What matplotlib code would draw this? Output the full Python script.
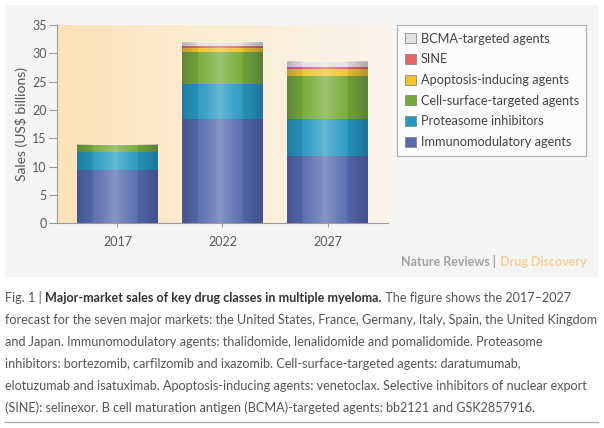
import matplotlib
matplotlib.use("Agg")
import matplotlib.pyplot as plt
import numpy as np
from matplotlib.patches import Rectangle, Patch

years = ["2017", "2022", "2027"]
series_names = ["Immunomodulatory agents", "Proteasome inhibitors",
                "Cell-surface-targeted agents", "Apoptosis-inducing agents",
                "SINE", "BCMA-targeted agents"]
immuno = [9.4, 18.4, 11.9]
proteasome = [3.1, 6.1, 6.5]
cell_surface = [1.3, 5.75, 7.6]
apoptosis = [0.0, 0.7, 1.25]
sine = [0.0, 0.35, 0.4]
bcma = [0.0, 0.5, 0.9]
yticks = [0, 5, 10, 15, 20, 25, 30, 35]

colors = ["#5669ab", "#2699c0", "#76aa38", "#f4c22c", "#e8666b", "#e2e2e2"]

FONT = ["Lato", "DejaVu Sans"]
plt.rcParams['font.family'] = FONT

W, H = 604, 428
fig = plt.figure(figsize=(W / 100, H / 100), dpi=100)
fig.patch.set_facecolor("white")

# panel background
fig.patches.append(Rectangle((5 / W, 1 - 277 / H), 593 / W, 272 / H,
                             transform=fig.transFigure, facecolor="#f5f5f5",
                             edgecolor="none", zorder=-10))

ax = fig.add_axes([57 / W, 1 - 223.3 / H, (388 - 57) / W, (223.3 - 25) / H])
ax.set_facecolor("none")

# background gradient (peach -> light)
grad = np.linspace(0, 1, 256) ** 0.8
c0 = np.array([253, 227, 182]) / 255
c1 = np.array([250, 244, 235]) / 255
img = c0[None, :] * (1 - grad[:, None]) + c1[None, :] * grad[:, None]
img = img[None, :, :]
ax.imshow(img, extent=[-0.576, 2.576, 0, 35], aspect="auto", zorder=0)

x = np.arange(len(years))
width = 0.77
data = [immuno, proteasome, cell_surface, apoptosis, sine, bcma]
bottom = np.zeros(len(years))
for vals, col, name in zip(data, colors, series_names):
    ax.bar(x, vals, width, bottom=bottom, color=col, edgecolor="none",
           zorder=2, label=name)
    bottom += np.array(vals)

# cylinder-like shading overlay on each bar
prof = np.linspace(0, 1, 200)
center = 0.47
light = np.clip(1 - np.abs(prof - center) / 0.4, 0, 1) ** 1.6
dark = np.clip((np.abs(prof - center) - 0.2) / 0.3, 0, 1) ** 1.2
ov = np.zeros((1, 200, 4))
ov[0, :, 0:3] = np.where((light * 0.3 > dark * 0.25)[:, None], [1, 1, 1], [0.05, 0.05, 0.2])
ov[0, :, 3] = np.maximum(light * 0.3, dark * 0.25)
for xi, tot in zip(x, bottom):
    ax.imshow(ov, extent=[xi - width / 2, xi + width / 2, 0, tot],
              aspect="auto", zorder=3, interpolation="bilinear")
ax.set_xlim(-0.576, 2.576)
ax.set_ylim(0, 35)

for s in ["top", "right"]:
    ax.spines[s].set_visible(False)
for s in ["left", "bottom"]:
    ax.spines[s].set_color("#9a9a9a")
    ax.spines[s].set_linewidth(0.8)
    ax.spines[s].set_zorder(5)
ax.set_yticks(yticks)
ax.set_xticks(x)
ax.set_xticklabels(years)
ax.tick_params(axis="both", colors="#9a9a9a", labelcolor="#5a5a5a",
               labelsize=9, width=0.8)
ax.tick_params(axis="y", length=5.5, pad=2)
ax.tick_params(axis="x", length=3, pad=6)
ax.set_ylabel("Sales (US$ billions)", fontsize=10, color="#555555")
ax.yaxis.set_label_coords(-0.087, 0.5)

# legend
handles = [Patch(facecolor=c, edgecolor="#8a8a8a", linewidth=0.6)
           for c in colors[::-1]]
leg = fig.legend(handles, series_names[::-1], loc="upper left",
                 bbox_to_anchor=(397 / W, 1 - 25 / H), frameon=True,
                 fancybox=False, fontsize=9.2, handlelength=0.85,
                 handleheight=0.85, handletextpad=0.4, labelspacing=0.68,
                 borderpad=0.6, borderaxespad=0)
leg.get_frame().set_edgecolor("#9a9a9a")
leg.get_frame().set_linewidth(0.8)
for t in leg.get_texts():
    t.set_color("#444444")

# brand
fig.canvas.draw()
r = fig.canvas.get_renderer()
t2 = fig.text(587 / W, 1 - 261.5 / H, "Drug Discovery", ha="right", va="center",
              fontsize=9, fontweight="bold", color="#f4cf96")
bb = t2.get_window_extent(r)
fig.text((bb.x0 - 1) / W, 1 - 261.5 / H, "Nature Reviews | ", ha="right",
         va="center", fontsize=9, fontweight="bold", color="#a3a3a3")

# caption
cap_color = "#555555"
lines = [
    [("Fig. 1 | ", "normal"), ("Major-market sales of key drug classes in multiple myeloma.", "bold"),
     (" The figure shows the 2017\u20132027", "normal")],
    [("forecast for the seven major markets: the United States, France, Germany, Italy, Spain, the United Kingdom", "normal")],
    [("and Japan. Immunomodulatory agents: thalidomide, lenalidomide and pomalidomide. Proteasome", "normal")],
    [("inhibitors: bortezomib, carfilzomib and ixazomib. Cell-surface-targeted agents: daratumumab,", "normal")],
    [("elotuzumab and isatuximab. Apoptosis-inducing agents: venetoclax. Selective inhibitors of nuclear export", "normal")],
    [("(SINE): selinexor. B cell maturation antigen (BCMA)-targeted agents: bb2121 and GSK2857916.", "normal")],
]
ys = [298, 320, 342, 364, 386, 407.5]

# fit font size to line 2 width
probe = fig.text(0, 0, lines[1][0][0], fontsize=10)
wp = probe.get_window_extent(r).width
probe.remove()
fs = 10 * (592 / wp)

for segs, yy in zip(lines, ys):
    xx = 5
    for txt, wt in segs:
        t = fig.text(xx / W, 1 - yy / H, txt, fontsize=fs, fontweight=wt,
                     color=cap_color if wt == "normal" else "#333333",
                     ha="left", va="center")
        xx = t.get_window_extent(r).x1

fig.add_artist(plt.Line2D([5 / W, 598 / W], [1 - 422 / H, 1 - 422 / H],
                          transform=fig.transFigure, color="#b0b0b0", lw=1))

fig.savefig("out.png", dpi=100, facecolor="white")
